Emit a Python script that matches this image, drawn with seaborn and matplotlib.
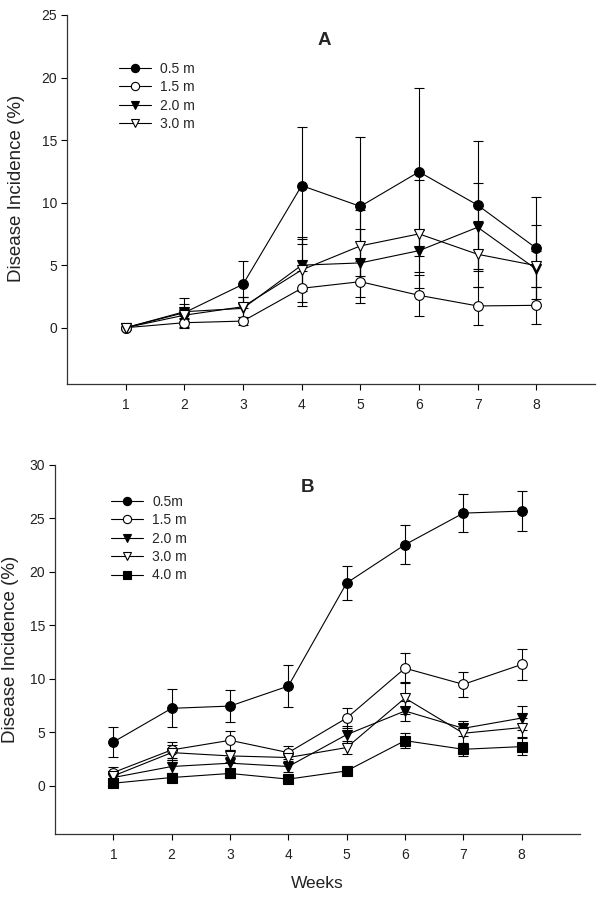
import matplotlib
matplotlib.use("Agg")
import matplotlib.pyplot as plt
import seaborn as sns
import numpy as np
import pandas as pd

weeks = [1, 2, 3, 4, 5, 6, 7, 8]

# Panel A
a_labels = ["0.5 m", "1.5 m", "2.0 m", "3.0 m"]
a_05 = [0.0, 1.2, 3.47, 11.36, 9.7, 12.46, 9.8, 6.35]
a_05_err = [0.0, 1.15, 1.87, 4.7, 5.56, 6.74, 5.13, 4.08]
a_15 = [0.0, 0.4, 0.53, 3.15, 3.68, 2.59, 1.74, 1.79]
a_15_err = [0.0, 0.4, 0.3, 1.4, 1.68, 1.65, 1.52, 1.5]
a_20 = [0.0, 1.28, 1.55, 5.0, 5.18, 6.16, 8.03, 4.67]
a_20_err = [0.0, 0.6, 0.9, 2.1, 2.7, 1.68, 3.52, 1.44]
a_30 = [0.0, 1.0, 1.68, 4.62, 6.54, 7.5, 5.87, 4.96]
a_30_err = [0.0, 0.5, 0.8, 2.6, 2.85, 4.3, 2.64, 3.24]

# Panel B
b_labels = ["0.5m", "1.5 m", "2.0 m", "3.0 m", "4.0 m"]
b_05 = [4.1, 7.25, 7.46, 9.33, 18.97, 22.55, 25.5, 25.69]
b_05_err = [1.44, 1.77, 1.47, 1.96, 1.62, 1.8, 1.77, 1.86]
b_15 = [1.25, 3.36, 4.26, 3.11, 6.34, 11.0, 9.49, 11.35]
b_15_err = [0.5, 0.78, 0.87, 0.62, 0.97, 1.38, 1.14, 1.43]
b_20 = [0.78, 1.81, 2.12, 1.81, 4.79, 7.0, 5.38, 6.34]
b_20_err = [0.4, 0.6, 0.6, 0.5, 0.8, 0.97, 0.7, 1.12]
b_30 = [0.93, 3.11, 2.8, 2.65, 3.58, 8.21, 4.92, 5.45]
b_30_err = [0.4, 0.7, 0.6, 0.5, 0.6, 1.5, 0.9, 0.9]
b_40 = [0.25, 0.78, 1.16, 0.63, 1.4, 4.23, 3.42, 3.67]
b_40_err = [0.3, 0.3, 0.4, 0.3, 0.3, 0.7, 0.6, 0.8]

styles = [("o", "black"), ("o", "white"), ("v", "black"), ("v", "white"), ("s", "black")]

sns.set_style("ticks")
plt.rcParams["font.family"] = ["Liberation Sans", "DejaVu Sans"]

fig = plt.figure(figsize=(5.97, 8.98), dpi=100)
ax1 = fig.add_axes([67 / 597, (898 - 384) / 898, 528 / 597, 369 / 898])
ax2 = fig.add_axes([55 / 597, (898 - 834) / 898, 525 / 597, 369 / 898])


def draw(ax, labels, series, errs):
    for i, (lab, vals, err) in enumerate(zip(labels, series, errs)):
        mk, fc = styles[i]
        ax.errorbar(weeks, vals, yerr=err, fmt="none", ecolor="black",
                    elinewidth=0.8, capsize=3.3, capthick=0.8, zorder=1)
        df = pd.DataFrame({"Week": weeks, "Value": vals})
        sns.lineplot(data=df, x="Week", y="Value", ax=ax, color="black",
                     marker=mk, markersize=7, markerfacecolor=fc,
                     markeredgecolor="black", markeredgewidth=0.8,
                     linewidth=0.8, label=lab, zorder=3 + i * 0.1)


draw(ax1, a_labels, [a_05, a_15, a_20, a_30],
     [a_05_err, a_15_err, a_20_err, a_30_err])
draw(ax2, b_labels, [b_05, b_15, b_20, b_30, b_40],
     [b_05_err, b_15_err, b_20_err, b_30_err, b_40_err])

for ax, ymax, yt in [(ax1, 25, range(0, 26, 5)), (ax2, 30, range(0, 31, 5))]:
    ax.set_xlim(0, 9)
    ax.set_ylim(-4.5, ymax)
    ax.set_xticks(weeks)
    ax.set_yticks(list(yt))
    ax.tick_params(axis="both", direction="out", length=4, width=0.8,
                   labelsize=10, color="black", labelcolor="#222222")
    ax.tick_params(axis="x", pad=6)
    ax.tick_params(axis="y", pad=3)
    for s in ["top", "right"]:
        ax.spines[s].set_visible(False)
    for s in ["left", "bottom"]:
        ax.spines[s].set_linewidth(0.9)
        ax.spines[s].set_color("#333333")
    ax.set_xlabel("")
    ax.set_ylabel("Disease Incidence (%)", fontsize=13.5, color="#222222")

ax1.yaxis.set_label_coords(-0.08, 0.53)
ax2.yaxis.set_label_coords(-0.069, 0.5)
ax2.set_xlabel("Weeks", fontsize=12.5, color="#222222")
ax2.xaxis.set_label_coords(0.5, -0.115)

ax1.text(4.38, 23.0, "A", ha="center", va="center", fontsize=13.5,
         fontweight="bold")
ax2.text(4.33, 27.9, "B", ha="center", va="center", fontsize=13.5,
         fontweight="bold")

leg_kw = dict(loc="upper left", frameon=False, borderpad=0, borderaxespad=0,
              handlelength=2.3, handletextpad=0.65, labelspacing=0.32,
              fontsize=10, markerscale=0.85)
h, l = ax1.get_legend_handles_labels()
ax1.legend(h, l, bbox_to_anchor=(0.0994, 0.873), **leg_kw)
h, l = ax2.get_legend_handles_labels()
ax2.legend(h, l, bbox_to_anchor=(0.107, 0.9195), **leg_kw)

fig.savefig("out.png", dpi=100)
